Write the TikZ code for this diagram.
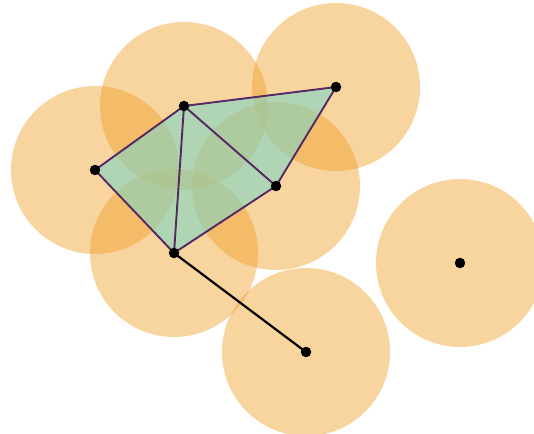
\documentclass[tikz,border=0pt]{standalone}
\definecolor{ball}{RGB}{239,159,40}
\definecolor{simp}{RGB}{128,214,196}
\definecolor{edgep}{RGB}{85,40,100}
\tikzset{
  ballstyle/.style={fill=ball, fill opacity=0.45, draw=none},
  vert/.style={circle, fill=black, inner sep=0pt, minimum size=10.5pt},
  edgestyle/.style={draw=edgep, line width=1.9pt},
  tri/.style={fill=simp, fill opacity=0.6, draw=none},
}
\begin{document}
\begin{tikzpicture}[x=1pt,y=-1pt]
\useasboundingbox (0,0) rectangle (534,433);
\clip (0,0) rectangle (534,433);
\coordinate (a) at (95,170);
\coordinate (b) at (184,106);
\coordinate (c) at (336,87);
\coordinate (d) at (276,186);
\coordinate (e) at (174,253);
\coordinate (f) at (306,352);
\coordinate (g) at (460,263);
\foreach \p in {a,b,c,d,e,f,g} \fill[ballstyle] (\p) circle (84);
\fill[tri] (a) -- (b) -- (e) -- cycle;
\fill[tri] (b) -- (d) -- (e) -- cycle;
\fill[tri] (b) -- (c) -- (d) -- cycle;
\draw[black, line width=2.2pt] (e) -- (f);
\draw[edgestyle] (a) -- (b) (b) -- (c) (c) -- (d) (d) -- (b) (b) -- (e) (e) -- (a) (e) -- (d);
\foreach \p in {a,b,c,d,e,f,g} \node[vert] (n\p) at (\p) {};
\end{tikzpicture}
\end{document}
